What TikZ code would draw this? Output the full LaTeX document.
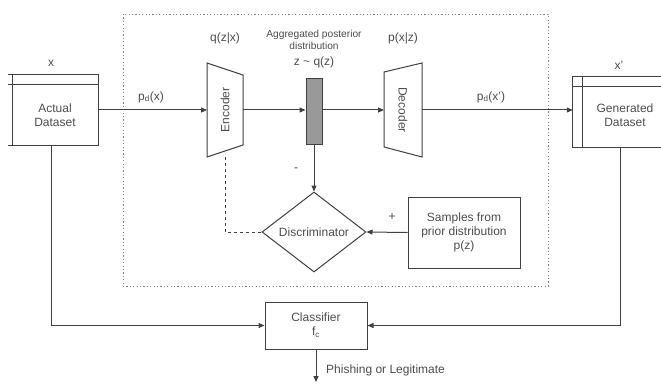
\documentclass[tikz,border=0pt]{standalone}
\usepackage{fontspec}
\setmainfont{Liberation Sans}
\usetikzlibrary{arrows.meta,shapes.geometric,calc}
\begin{document}
\begin{tikzpicture}[x=1pt,y=-1pt,
  ln/.style={draw=black!75,line width=1pt},
  arr/.style={ln,-{Triangle[length=6pt,width=5pt]}},
  txt/.style={font=\fontsize{12}{14}\selectfont,text=black!70,align=center,inner sep=0pt},
  smalltxt/.style={font=\fontsize{10.2}{11.5}\selectfont,text=black!70,align=center,inner sep=0pt},
  boxed/.style={ln,rectangle,inner sep=0pt}]
\useasboundingbox (0,0) rectangle (661,385);

% dotted frame
\draw[black!50,line width=0.8pt,dash pattern=on 1.2pt off 2.2pt] (123,14) rectangle (548,286);

% Actual dataset
\node[draw=none,rectangle,minimum width=90pt,minimum height=70pt,inner sep=0pt] (adbox) at (53,110) {};
\draw[ln] (adbox.north west) -- (adbox.north east) -- (adbox.south east) -- (adbox.south west);
\draw[ln] ([yshift=-10pt]adbox.north west) -- ([yshift=-10pt]adbox.north east);
\draw[ln] ([xshift=5pt]adbox.north west) -- ([xshift=5pt]adbox.south west);
\node[txt] (adtext) at (55,115) {Actual\\Dataset};
\node[txt] (xlab) at (51,63) {x};

% Generated dataset
\node[draw=none,rectangle,minimum width=88pt,minimum height=70pt,inner sep=0pt] (gdbox) at (617,112) {};
\draw[ln] (gdbox.north east) -- (gdbox.north west) -- (gdbox.south west) -- (gdbox.south east);
\draw[ln] ([yshift=-10pt]gdbox.north west) -- ([yshift=-10pt]gdbox.north east);
\draw[ln] ([xshift=10pt]gdbox.north west) -- ([xshift=10pt]gdbox.south west);
\node[txt] (gdtext) at (625,115) {Generated\\Dataset};
\node[txt] (xplab) at (619,65) {x'};

% Encoder
\coordinate (e1) at (207,63);
\coordinate (e2) at (243,75);
\coordinate (e3) at (243,145);
\coordinate (e4) at (207,157);
\draw[ln,line join=miter] (e1) -- (e2) -- (e3) -- (e4) -- cycle;
\node[txt,rotate=90] (enc) at (225,110) {Encoder};
\coordinate (encL) at (207,110);
\coordinate (encR) at (243,110);
\coordinate (encB) at (225,157);
\node[txt] (qzx) at (225,38) {q(z|x)};

% latent bar
\node[ln,fill=black!40,rectangle,minimum width=16pt,minimum height=66pt,inner sep=0pt] (bar) at (314,112) {};
\node[smalltxt] (agg) at (314,40) {Aggregated posterior\\distribution};
\node[txt] (zq) at (314,62) {z \textasciitilde{} q(z)};

% Decoder
\coordinate (d1) at (384,72);
\coordinate (d2) at (422,63);
\coordinate (d3) at (422,157);
\coordinate (d4) at (384,147);
\draw[ln,line join=miter] (d1) -- (d2) -- (d3) -- (d4) -- cycle;
\node[txt,rotate=-90] (dec) at (403,110) {Decoder};
\coordinate (decL) at (384,110);
\coordinate (decR) at (422,110);
\node[txt] (pxz) at (403,38) {p(x|z)};

% Discriminator
\node[ln,diamond,minimum width=104pt,minimum height=80pt,inner sep=0pt] (disc) at (314,232) {};
\node[txt] (disctext) at (314,232) {Discriminator};

% Samples
\node[boxed,minimum width=112pt,minimum height=71pt] (samp) at (464,232.5) {};
\node[txt] (samptext) at (464,232.5) {Samples from\\prior distribution\\p(z)};

% Classifier
\node[boxed,minimum width=102pt,minimum height=47pt] (clf) at (316,325.5) {};
\node[txt] (clftext) at (316,325.5) {Classifier\\[0pt]f\textsubscript{c}};
\coordinate (out) at (316,382);

% connectors
\draw[arr] (adbox.east) -- (encL);
\node[txt] (pdx) at (151,97) {p\textsubscript{d}(x)};
\draw[arr] (encR) -- (encR -| bar.west);
\draw[arr] (bar.east |- encR) -- (decL);
\draw[arr] (decR) -- (decR -| gdbox.west);
\node[txt] (pdxp) at (491,97) {p\textsubscript{d}(x')};
\draw[arr] (bar.south) -- (disc.north);
\node[txt] (minus) at (296,170) {-};
\draw[arr] (samp.west) -- (disc.east);
\node[txt] (plus) at (392,217) {+};
\draw[ln,dashed] (encB) -- (encB |- disc.west) -- (disc.west);
\draw[arr] ([xshift=-2pt]adbox.south) |- (clf.west);
\draw[arr] ([xshift=3pt]gdbox.south) |- (clf.east);
\draw[arr] (clf.south) -- (out);
\node[txt,anchor=west] (outlab) at (326,370) {Phishing or Legitimate};
\end{tikzpicture}
\end{document}
